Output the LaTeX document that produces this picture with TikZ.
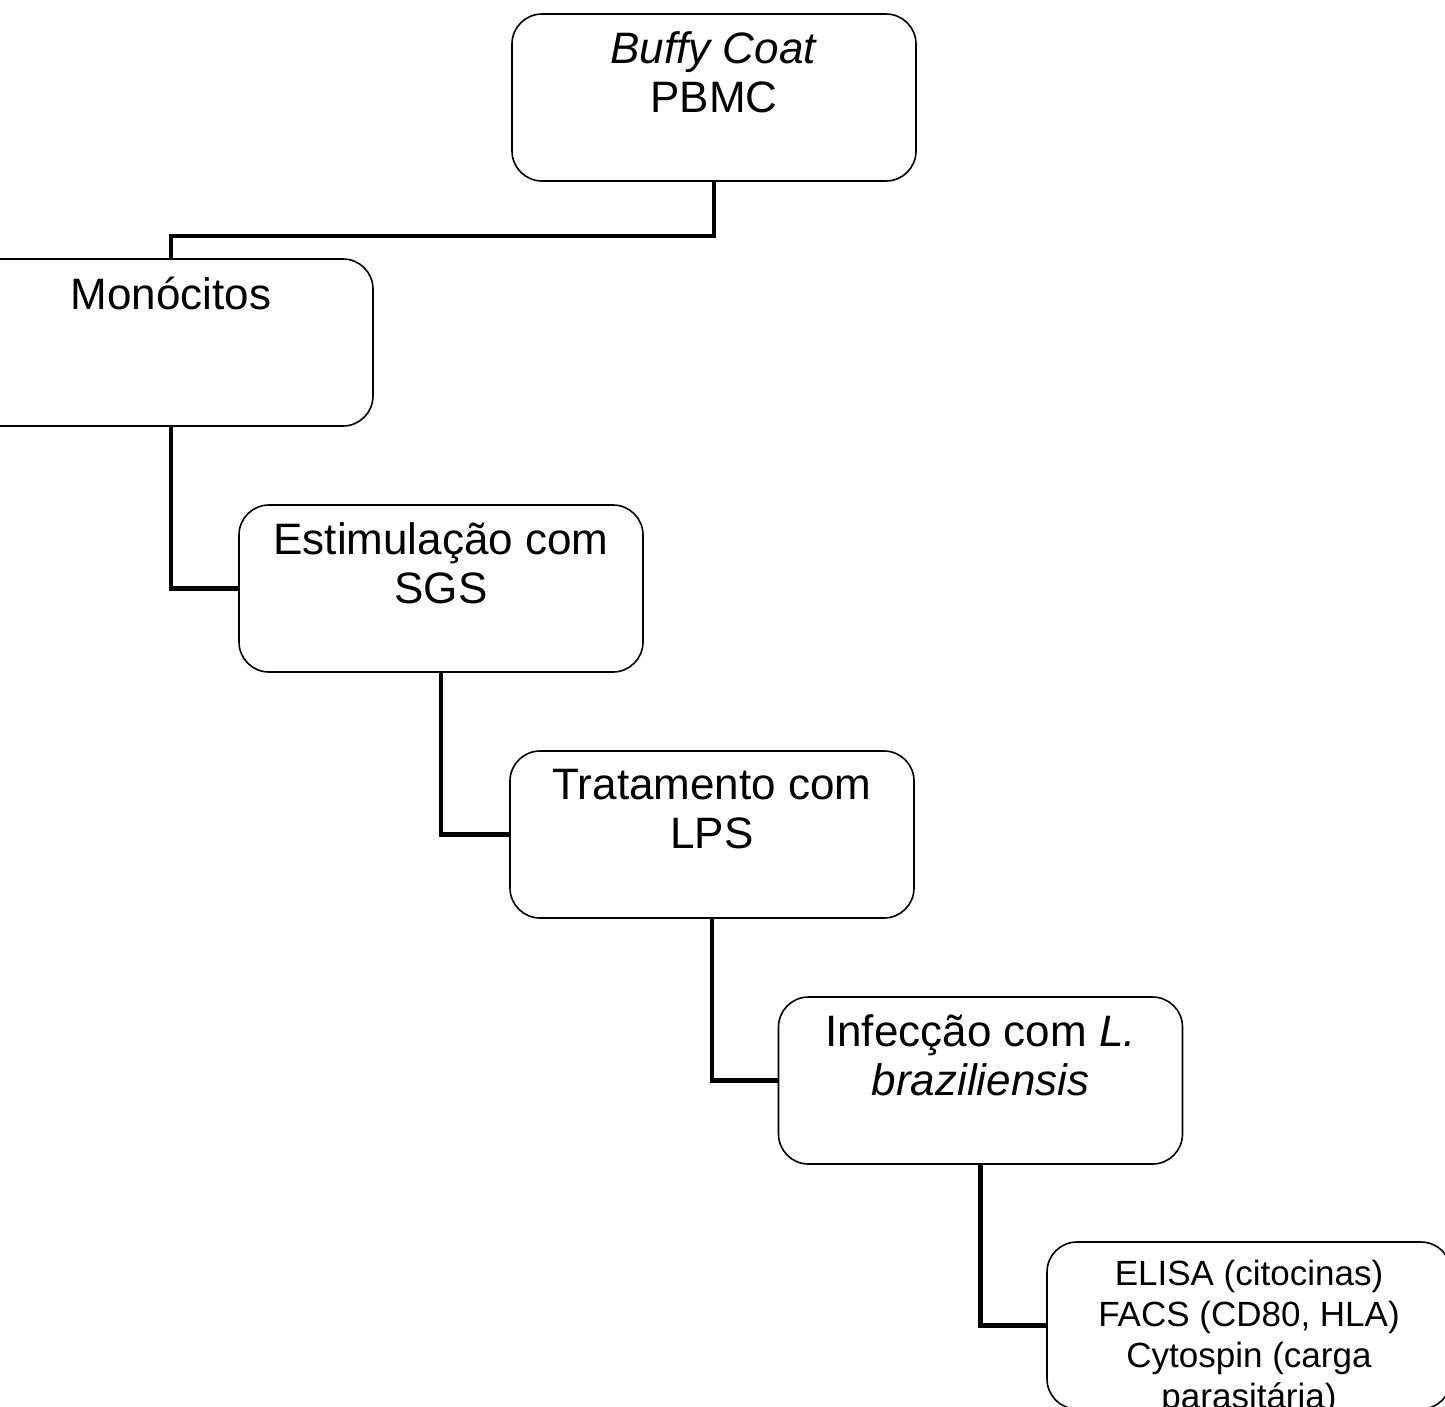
\documentclass[tikz,border=0pt]{standalone}
\usepackage{fontspec}
\setmainfont{Liberation Sans}
\tikzset{
  stepbox/.style={draw,line width=1.6pt,rounded corners=30pt,
    minimum width=404pt,minimum height=167pt,inner sep=0pt,
    font=\fontsize{44}{49}\selectfont},
  smallbox/.style={stepbox,font=\fontsize{35}{41}\selectfont},
  link/.style={line width=4.5pt},
}
\newcommand{\boxtext}[1]{\parbox[c][131pt][t]{400pt}{\centering #1}}

\begin{document}
\begin{tikzpicture}[x=1pt,y=-1pt]
  \useasboundingbox (0,0) rectangle (1445,1406);
  \clip (0,0) rectangle (1445,1406);
  % the steps
  \node[stepbox] (buffy) at (714,97.5) {\boxtext{\textit{Buffy Coat}\\PBMC}};
  \node[stepbox] (mono) at (171,342.5) {\boxtext{Monócitos}};
  \node[stepbox] (sgs) at (441,588.5) {\boxtext{Estimulação com\\SGS}};
  \node[stepbox] (lps) at (712,834.5) {\boxtext{Tratamento com\\LPS}};
  \node[stepbox] (infec) at (980.5,1080.5)
    {\boxtext{Infecção com \textit{L.}\\\textit{braziliensis}}};
  \node[smallbox] (tests) at (1249,1325.5)
    {\boxtext{ELISA (citocinas)\\FACS (CD80, HLA)\\Cytospin (carga\\parasitária)}};
  % links
  \draw[link] (buffy.south) -- ++(0,54) -| (mono.north);
  \draw[link] (mono.south) |- (sgs.west);
  \draw[link] (sgs.south) |- (lps.west);
  \draw[link] (lps.south) |- (infec.west);
  \draw[link] (infec.south) |- (tests.west);
\end{tikzpicture}
\end{document}
